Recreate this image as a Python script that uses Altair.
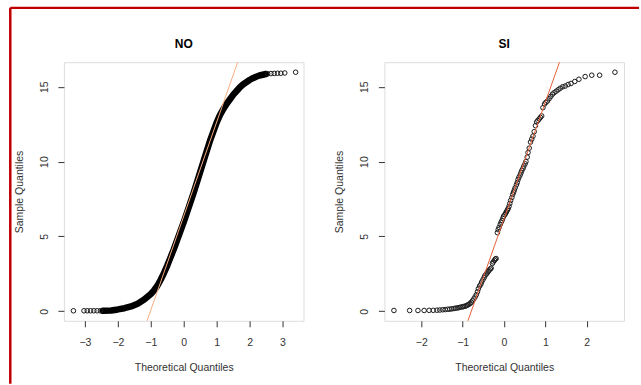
import altair as alt
import pandas as pd

FONT = "Liberation Sans"

# ---------------- data ----------------
# Panel "NO": sparse tail points (distinct circles)
no_tail_x = [-3.35, -3.03, -2.93, -2.83, -2.73, -2.63, -2.53,
             2.55, 2.65, 2.75, 2.85, 2.95, 3.07, 3.40]
no_tail_y = [0.03, 0.03, 0.03, 0.03, 0.03, 0.03, 0.03,
             15.87, 15.88, 15.89, 15.9, 15.9, 15.92, 15.97]
# Panel "NO": dense core of overlapping circles (read along the black band)
no_core_x = [-2.45, -2.2, -2.0, -1.8, -1.6, -1.4, -1.2, -1.0, -0.9, -0.8,
             -0.7, -0.6, -0.5, -0.4, -0.3, -0.2, -0.1, 0.0, 0.1, 0.2,
             0.3, 0.4, 0.5, 0.6, 0.7, 0.8, 0.9, 1.0, 1.1, 1.2,
             1.3, 1.4, 1.5, 1.6, 1.7, 1.8, 1.9, 2.0, 2.1, 2.2,
             2.3, 2.4, 2.5]
no_core_y = [0.03, 0.05, 0.12, 0.2, 0.32, 0.5, 0.78, 1.15, 1.4, 1.7,
             2.1, 2.55, 3.05, 3.6, 4.15, 4.75, 5.35, 5.95, 6.6, 7.25,
             7.9, 8.6, 9.3, 10.0, 10.7, 11.4, 12.0, 12.6, 13.1, 13.5,
             13.85, 14.15, 14.45, 14.7, 14.95, 15.15, 15.3, 15.45, 15.57, 15.67,
             15.75, 15.8, 15.85]
no_qq_intercept, no_qq_slope = 6.35, 6.28

# Panel "SI"
si_x = [-2.66, -2.28, -2.08, -1.93, -1.81, -1.71, -1.62, -1.55, -1.48, -1.42,
        -1.36, -1.31, -1.26, -1.21, -1.17, -1.13, -1.09, -1.05, -1.01, -0.98,
        -0.94, -0.91, -0.88, -0.85, -0.82, -0.79, -0.76, -0.73, -0.70, -0.67,
        -0.64, -0.62, -0.59, -0.56, -0.54, -0.51, -0.48, -0.46, -0.43, -0.41,
        -0.38, -0.36, -0.33, -0.31, -0.28, -0.26, -0.23, -0.21, -0.19, -0.16,
        -0.14, -0.12, -0.09, -0.07, -0.05, -0.03, -0.01, 0.02, 0.04, 0.06,
        0.08, 0.10, 0.12, 0.14, 0.16, 0.19, 0.21, 0.23, 0.25, 0.27,
        0.30, 0.32, 0.34, 0.36, 0.39, 0.41, 0.43, 0.46, 0.48, 0.51,
        0.53, 0.56, 0.58, 0.61, 0.64, 0.67, 0.70, 0.73, 0.76, 0.79,
        0.82, 0.85, 0.88, 0.91, 0.94, 0.98, 1.01, 1.05, 1.09, 1.13,
        1.17, 1.21, 1.26, 1.31, 1.36, 1.42, 1.48, 1.55, 1.62, 1.71,
        1.81, 1.96, 2.12, 2.31, 2.68]
si_y = [0.05, 0.05, 0.05, 0.05, 0.06, 0.06, 0.07, 0.08, 0.1, 0.11,
        0.13, 0.14, 0.16, 0.18, 0.2, 0.22, 0.24, 0.27, 0.29, 0.31,
        0.34, 0.37, 0.41, 0.46, 0.52, 0.6, 0.7, 0.82, 0.95, 1.1,
        1.3, 1.5, 1.68, 1.8, 1.95, 2.1, 2.25, 2.38, 2.48, 2.55,
        2.65, 2.75, 2.82, 2.88, 3.2, 3.3, 3.4, 3.48, 3.52, 5.25,
        5.45, 5.6, 5.8, 5.95, 6.05, 6.2, 6.35, 6.45, 6.55, 6.65,
        6.75, 6.85, 7.0, 7.2, 7.4, 7.6, 7.8, 7.95, 8.1, 8.25,
        8.45, 8.6, 8.8, 8.95, 9.1, 9.25, 9.4, 9.55, 9.7, 9.85,
        10.0, 10.3, 10.6, 10.9, 11.3, 11.5, 11.7, 12.0, 12.4, 12.65,
        12.75, 12.85, 12.95, 13.05, 13.6, 13.85, 13.95, 14.05, 14.2, 14.35,
        14.5, 14.6, 14.7, 14.8, 14.9, 15.0, 15.05, 15.15, 15.22, 15.35,
        15.5, 15.68, 15.77, 15.77, 15.97]
si_qq_intercept, si_qq_slope = 6.17, 7.81

titles = ["NO", "SI"]
no_x_ticks = [-3, -2, -1, 0, 1, 2, 3]
si_x_ticks = [-2, -1, 0, 1, 2]
y_ticks = [0, 5, 10, 15]

NO_XDOM = [-3.64, 3.64]
SI_XDOM = [-2.89, 2.90]
YDOM = [-0.64, 16.64]

W, H = 240, 259
INK = "#333333"


def x_axis(ticks):
    return alt.Axis(values=ticks, title="Theoretical Quantiles", grid=False, domain=False,
                    tickSize=6, tickColor=INK, labelPadding=15.5, labelBaseline="middle",
                    labelAlign="center", labelFontSize=10.5, labelColor=INK, labelFont=FONT,
                    titleFont=FONT, titleFontSize=10.5, titleFontWeight="normal", titleColor=INK,
                    titleX=W / 2, titleY=46.5, titleBaseline="middle", titleAlign="center",
                    labelFlush=False, labelOverlap=False)


def y_axis():
    return alt.Axis(values=y_ticks, title="Sample Quantiles", grid=False, domain=False,
                    tickSize=6, tickColor=INK, labelPadding=13.7, labelAngle=270,
                    labelAlign="center", labelBaseline="middle", labelFontSize=10.5,
                    labelColor=INK, labelFont=FONT, titleFont=FONT, titleFontSize=10.5,
                    titleFontWeight="normal", titleColor=INK, titleAngle=270,
                    titleX=-44.7, titleY=H / 2, titleBaseline="middle", titleAlign="center",
                    labelFlush=False, labelOverlap=False)


def panel(title, pts, core, qi, qs, xdom, xticks, line_color, border=False):
    xs = alt.X("x:Q", scale=alt.Scale(domain=xdom, nice=False, zero=False), axis=x_axis(xticks))
    ys = alt.Y("y:Q", scale=alt.Scale(domain=YDOM, nice=False, zero=False), axis=y_axis())
    layers = []
    if core is not None:
        layers.append(alt.Chart(core).mark_line(color="#000000", strokeWidth=6.5,
                                                 strokeCap="round", strokeJoin="round",
                                                 clip=True).encode(x=xs, y=ys))
    layers.append(alt.Chart(pts).mark_point(shape="circle", size=21, filled=False,
                                             color="#1a1a1a", strokeWidth=1,
                                             opacity=1, clip=True).encode(x=xs, y=ys))
    line_df = pd.DataFrame({"x": xdom})
    line_df["y"] = qi + qs * line_df["x"]
    layers.append(alt.Chart(line_df).mark_line(color=line_color, strokeWidth=1,
                                                clip=True).encode(x=xs, y=ys))
    layers.append(alt.Chart(pd.DataFrame({"t": [title]})).mark_text(
        font=FONT, fontSize=12, fontWeight="bold", color="#000000",
        align="center", baseline="alphabetic").encode(
        text="t:N", x=alt.value(W / 2), y=alt.value(-14)))
    if border:
        bd = pd.DataFrame({"b": [0]})
        layers.append(alt.Chart(bd).mark_rule(color="#C00000", strokeWidth=2.5).encode(
            x=alt.value(-53.7), y=alt.value(-54.5), y2=alt.value(322)))
        layers.append(alt.Chart(bd).mark_rule(color="#C00000", strokeWidth=2.2).encode(
            x=alt.value(-53.7), x2=alt.value(576), y=alt.value(-54.5)))
    return alt.layer(*layers).properties(width=W, height=H)


no_pts = pd.DataFrame({"x": no_tail_x, "y": no_tail_y})
no_core = pd.DataFrame({"x": no_core_x, "y": no_core_y})
si_pts = pd.DataFrame({"x": si_x, "y": si_y})

left = panel(titles[0], no_pts, no_core, no_qq_intercept, no_qq_slope,
             NO_XDOM, no_x_ticks, "#F6AE7E", border=True)
right = panel(titles[1], si_pts, None, si_qq_intercept, si_qq_slope,
              SI_XDOM, si_x_ticks, "#E8603A")

chart = alt.hconcat(left, right, spacing=81, bounds="flush").properties(
    padding={"left": 8, "top": 5, "right": 0, "bottom": 0},
    background="white",
).configure_view(stroke=INK, strokeWidth=1).configure(font=FONT)

chart.save("out.html", embed_options={"renderer": "svg", "actions": False})
